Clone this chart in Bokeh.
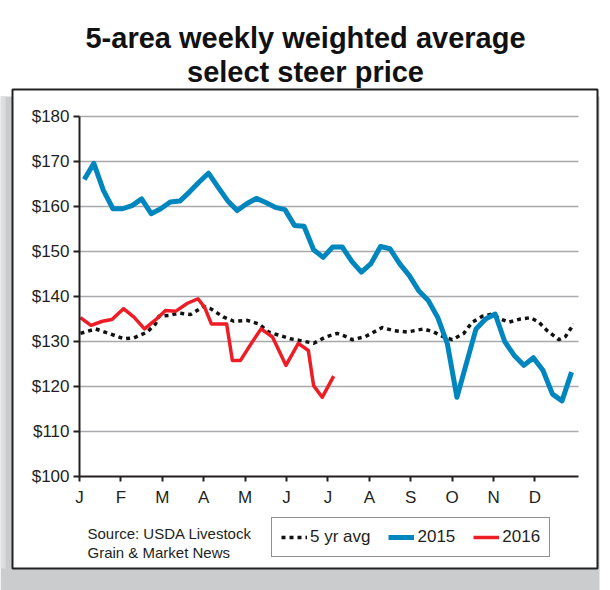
from bokeh.plotting import figure
from bokeh.models import Range1d, FixedTicker, LinearAxis, Legend, LegendItem
from bokeh.embed import file_html
from bokeh.resources import INLINE
from bokeh.core.properties import value

# ---------------- data ----------------
month_labels = ["J", "F", "M", "A", "M", "J", "J", "A", "S", "O", "N", "D"]
y_ticks = [100, 110, 120, 130, 140, 150, 160, 170, 180]
y_labels = ["$100", "$110", "$120", "$130", "$140", "$150", "$160", "$170", "$180"]

# 2015: weekly values
price_2015 = [166.0, 169.6, 163.6, 159.5, 159.5, 160.2, 161.7, 158.4, 159.5, 161.0,
              161.2, 163.2, 165.4, 167.4, 164.3, 161.3, 159.1, 160.6, 161.8, 160.9,
              159.8, 159.3, 155.8, 155.6, 150.4, 148.7, 151.0, 151.0, 147.8, 145.4,
              147.3, 151.1, 150.6, 147.3, 144.7, 141.3, 139.1, 135.3, 129.5, 117.6,
              125.2, 132.8, 135.0, 136.1, 130.0, 126.9, 124.7, 126.4, 123.6, 118.3,
              116.8, 123.2]
week_2015 = [i + 0.5 for i in range(len(price_2015))]

# 2016: week of year, price
week_2016 = [0.1, 1.2, 2.4, 3.4, 4.6, 5.7, 6.8, 7.95, 9.0, 10.05, 11.3, 12.4, 13.1,
             13.8, 15.4, 16.0, 16.85, 17.9, 19.0, 20.2, 21.6, 22.9, 23.95, 24.5, 25.4, 26.6]
price_2016 = [135.3, 133.6, 134.5, 134.9, 137.3, 135.4, 132.8, 134.8, 136.9, 136.7,
              138.5, 139.5, 137.6, 133.9, 133.9, 125.8, 125.8, 129.3, 132.8, 131.0,
              124.7, 129.6, 128.0, 120.2, 117.6, 122.3]

# 5 yr average
week_avg = [0.1, 1.67, 3.07, 4.64, 5.68, 7.09, 7.95, 8.3, 9.35, 10.39, 11.62, 13.01,
            13.71, 15.1, 16.15, 17.55, 18.77, 19.81, 21.04, 22.08, 23.13, 24.52, 25.75,
            26.97, 27.66, 28.54, 29.93, 31.68, 32.89, 34.3, 36.03, 37.08, 38.13, 39.01,
            40.22, 41.1, 42.15, 43.19, 44.06, 44.93, 46.15, 47.2, 48.07, 48.95, 50.16,
            50.86, 51.73]
price_avg = [131.8, 132.8, 131.8, 130.6, 130.8, 132.1, 133.9, 135.6, 135.8, 136.3,
             136.0, 137.8, 137.3, 135.4, 134.5, 134.7, 133.9, 132.1, 131.3, 130.6,
             130.2, 129.6, 131.0, 131.8, 131.3, 130.4, 131.1, 133.1, 132.4, 132.1,
             132.8, 132.1, 131.0, 130.4, 131.8, 134.3, 135.6, 136.1, 135.0, 134.3,
             135.0, 135.3, 134.3, 132.4, 130.4, 131.1, 133.9]

title_lines = ["5-area weekly weighted average", "select steer price"]
source_lines = ["Source: USDA Livestock", "Grain & Market News"]

# ---------------- layout helpers (pixel -> data) ----------------
W, H = 610, 590
PX_M = 41.405      # px per month
X_ORIGIN = 79      # px of Jan 1
Y_TOP = 116        # px of $180
PX_D = 4.5         # px per dollar


def X(px):
    return (px - X_ORIGIN) / PX_M


def Y(py):
    return 180 - (py - Y_TOP) / PX_D


def to_month(weeks):
    return [w * 12 / 52 for w in weeks]


p = figure(width=W, height=H, output_backend="svg", toolbar_location=None,
           x_range=Range1d(X(0), X(W)), y_range=Range1d(Y(H), Y(0)),
           min_border=0, x_axis_location=None, y_axis_location=None)
p.outline_line_color = None
p.background_fill_color = "white"
p.border_fill_color = "white"
p.xgrid.visible = False
p.ygrid.visible = False

# shadow + panel box
p.quad(left=X(0), right=X(599), top=Y(96), bottom=Y(590), fill_color="#CBCCCE", line_color=None)
p.quad(left=X(0), right=X(5), top=Y(96), bottom=Y(568), fill_color="#DDDEDF", line_color=None)
p.quad(left=X(12), right=X(597), top=Y(89), bottom=Y(568), fill_color="white",
       line_color="#222222", line_width=2)

# grid lines
x_end = X(578)
gy = [t for t in y_ticks if t > y_ticks[0]]
p.segment(x0=[0] * len(gy), x1=[x_end] * len(gy), y0=gy, y1=gy,
          line_color="#A7A9AC", line_width=1.5)

# series
r_avg = p.line(to_month(week_avg), price_avg, line_color="#111111", line_width=3.5,
               line_dash="4 4")
r15 = p.line(to_month(week_2015), price_2015, line_color="#0086BF", line_width=5,
             line_join="round")
r16 = p.line(to_month(week_2016), price_2016, line_color="#EE1C25", line_width=3.5,
             line_join="round")

# axes
FONT = "Liberation Sans"
yaxis = LinearAxis(ticker=FixedTicker(ticks=y_ticks), fixed_location=0,
                   bounds=(y_ticks[0], y_ticks[-1]),
                   major_label_overrides={t: l for t, l in zip(y_ticks, y_labels)})
xaxis = LinearAxis(ticker=FixedTicker(ticks=list(range(12))), fixed_location=y_ticks[0],
                   bounds=(0, x_end),
                   major_label_overrides={i: l for i, l in enumerate(month_labels)})
for ax in (yaxis, xaxis):
    ax.axis_line_color = "#231F20"
    ax.axis_line_width = 2
    ax.major_tick_line_color = "#231F20"
    ax.major_tick_line_width = 2
    ax.major_tick_in = 0
    ax.minor_tick_out = 0
    ax.minor_tick_in = 0
    ax.major_label_text_font = FONT
    ax.major_label_text_font_size = "17px"
    ax.major_label_text_color = "#231F20"
yaxis.major_tick_out = 6
yaxis.major_label_standoff = 4
xaxis.major_tick_out = 5
xaxis.major_label_standoff = 6
p.add_layout(yaxis, "left")
p.add_layout(xaxis, "below")

# title
p.text(x=[X(305)] * 2, y=[Y(37), Y(71)], text=title_lines,
       text_font=value(FONT), text_font_style="bold",
       text_font_size="29px", text_align="center", text_baseline="alphabetic",
       text_color="#111111")

# source
p.text(x=[X(87)] * 2, y=[Y(533), Y(552)], text=source_lines,
       text_font=value(FONT), text_font_size="15px", text_align="left",
       text_baseline="alphabetic", text_color="#231F20")

# legend
legend = Legend(items=[LegendItem(label="5 yr avg", renderers=[r_avg]),
                       LegendItem(label="2015", renderers=[r15]),
                       LegendItem(label="2016", renderers=[r16])],
                orientation="horizontal", location=(271, H - 557),
                border_line_color="#231F20", border_line_width=1,
                background_fill_color="white", background_fill_alpha=1,
                label_text_font=FONT, label_text_font_size="17px",
                label_text_color="#231F20",
                glyph_width=26, glyph_height=18, label_standoff=3,
                spacing=18, padding=9, margin=0, label_height=18)
p.add_layout(legend)

open("out.html", "w").write(file_html(p, INLINE))
